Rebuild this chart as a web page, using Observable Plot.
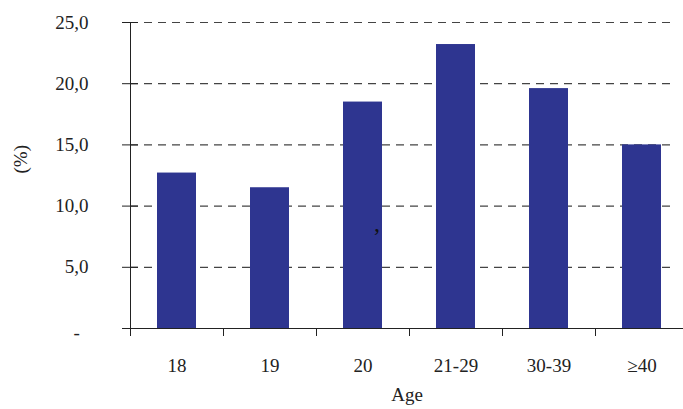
<!DOCTYPE html>
<html>
<head>
<meta charset="utf-8">
<script src="https://cdn.jsdelivr.net/npm/d3@7"></script>
<script src="https://cdn.jsdelivr.net/npm/@observablehq/plot@0.6"></script>
<style>
  html, body { margin: 0; padding: 0; background: #fff; }
</style>
</head>
<body>
<div id="chart"></div>
<script>
const categories = ["18", "19", "20", "21-29", "30-39", "≥40"];
const values = [12.7, 11.5, 18.5, 23.2, 19.6, 15.0];
const yTicks = [5, 10, 15, 20, 25];
const yTickLabels = ["5,0", "10,0", "15,0", "20,0", "25,0"];
const zeroLabel = "-";
const xTitle = "Age";
const yTitle = "(%)";
const strayText = ",";

const data = categories.map((c, i) => ({category: c, value: values[i]}));
const font = "'Liberation Serif', 'DejaVu Serif', serif";

const chart = Plot.plot({
  width: 683,
  height: 409,
  marginLeft: 130,
  marginRight: 0,
  marginTop: 22,
  marginBottom: 81,
  style: {fontFamily: font, fontSize: "19px", background: "#fff", color: "#222", overflow: "hidden"},
  x: {domain: categories, range: [130, 688], paddingInner: 0.58, paddingOuter: 0.29, axis: null},
  y: {domain: [0, 25], axis: null},
  marks: [
    Plot.ruleY(yTicks, {stroke: "#444", strokeDasharray: "8,6", strokeWidth: 1.2, insetRight: 8}),
    Plot.barY(data, {x: "category", y: "value", fill: "#2e3590"}),
    Plot.frame({anchor: "left", stroke: "#222"}),
    Plot.ruleY([0], {stroke: "#222", insetLeft: -8}),
    Plot.axisY(yTicks, {tickSize: 16, dx: 8, tickPadding: 34, stroke: "#222", label: null,
      tickFormat: d => yTickLabels[yTicks.indexOf(d)], fontSize: 19, fill: "#222"}),
    Plot.text([0], {y: d => d, frameAnchor: "left", dx: -57, dy: 4, text: () => zeroLabel, fontSize: 19, fill: "#222"}),
    Plot.axisX(categories, {tickSize: 8, dx: -46.5, text: null, stroke: "#222", label: null}),
    Plot.axisX(categories, {tickSize: 0, tickPadding: 30, fontSize: 19, fill: "#222", label: null}),
    Plot.text([xTitle], {frameAnchor: "bottom", dy: 72, fontSize: 19, fill: "#222"}),
    Plot.text([yTitle], {frameAnchor: "left", dx: -110, dy: -2, rotate: -90, fontSize: 19, fill: "#222"}),
    Plot.text([strayText], {x: () => categories[2], y: () => 8.6, dx: 14, fontSize: 24, fill: "#111"})
  ]
});
document.getElementById("chart").appendChild(chart);
</script>
</body>
</html>
